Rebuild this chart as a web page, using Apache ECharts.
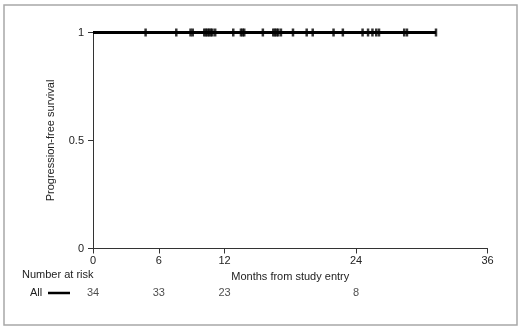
<!DOCTYPE html>
<html>
<head>
<meta charset="utf-8">
<script src="https://cdn.jsdelivr.net/npm/echarts@6/dist/echarts.min.js"></script>
<style>html,body{margin:0;padding:0;background:#fff;}#c{width:520px;height:328px;}</style>
</head>
<body>
<div id="c"></div>
<script>
// ---- data ----
var curveTimes = [0, 31.3];
var curveSurvival = [1, 1];
var censorTimes = [4.8, 7.6, 8.9, 9.1, 10.15, 10.3, 10.45, 10.6, 10.75, 10.9, 11.15, 12.8,
  13.5, 13.65, 13.8, 15.5, 16.45, 16.6, 16.75, 16.9, 17.15, 18.25, 19.5, 20.05, 21.95, 22.8,
  24.6, 25.1, 25.5, 25.85, 26.1, 28.4, 28.65, 31.3];
var xTicks = [0, 6, 12, 24, 36];
var yTicks = [0, 0.5, 1];
var riskTimes = [0, 6, 12, 24];
var riskCounts = [34, 33, 23, 8];
var groupName = 'All';

var FONT = 'Liberation Sans, Arial, sans-serif';
var TXT = '#222';
var chart = echarts.init(document.getElementById('c'), null, {renderer: 'canvas'});

var curveData = curveTimes.map(function (t, i) { return [t, curveSurvival[i]]; });
var censorData = censorTimes.map(function (t) { return [t, 1]; });
var riskData = riskTimes.map(function (t, i) { return [t, 0.5, riskCounts[i]]; });

chart.setOption({
  animation: false,
  backgroundColor: '#fff',
  grid: [
    {left: 93, right: 32.5, top: 32.5, bottom: 79.5},
    {left: 93, right: 32.5, top: 285, height: 16}
  ],
  xAxis: [{
    gridIndex: 0, type: 'value', min: 0, max: 36, interval: 6,
    name: 'Months from study entry', nameLocation: 'middle', nameGap: 21,
    nameTextStyle: {fontFamily: FONT, fontSize: 11, color: TXT},
    axisLine: {lineStyle: {color: '#333', width: 1}},
    axisTick: {show: true, length: 5, inside: false, customValues: xTicks, lineStyle: {color: '#333'}},
    axisLabel: {customValues: xTicks, margin: 7, fontFamily: FONT, fontSize: 11, color: TXT},
    splitLine: {show: false}
  }, {
    gridIndex: 1, type: 'value', min: 0, max: 36, show: false
  }],
  yAxis: [{
    gridIndex: 0, type: 'value', min: 0, max: 1, interval: 0.5,
    name: 'Progression-free survival', nameLocation: 'middle', nameGap: 37, nameRotate: 90,
    nameTextStyle: {fontFamily: FONT, fontSize: 11, color: TXT},
    axisLine: {show: true, lineStyle: {color: '#333', width: 1}},
    axisTick: {show: true, length: 5, customValues: yTicks, lineStyle: {color: '#333'}},
    axisLabel: {customValues: yTicks, margin: 9, fontFamily: FONT, fontSize: 11, color: TXT,
      formatter: function (v) { return String(v); }},
    splitLine: {show: false}
  }, {
    gridIndex: 1, type: 'value', min: 0, max: 1, show: false
  }],
  graphic: [
    {type: 'rect', shape: {x: 4, y: 5, width: 513, height: 320}, style: {fill: 'none', stroke: '#a8a8a8', lineWidth: 1.5}, silent: true},
    {type: 'text', left: 22, top: 269, style: {text: 'Number at risk', font: '11px ' + FONT, fill: TXT}},
    {type: 'text', left: 30, top: 287, style: {text: groupName, font: '11px ' + FONT, fill: TXT}},
    {type: 'line', shape: {x1: 48, y1: 293, x2: 70, y2: 293}, style: {stroke: '#000', lineWidth: 2.5}}
  ],
  series: [{
    type: 'line', xAxisIndex: 0, yAxisIndex: 0, step: 'end', data: curveData,
    symbol: 'none', lineStyle: {color: '#000', width: 3}, clip: false, z: 2
  }, {
    type: 'scatter', xAxisIndex: 0, yAxisIndex: 0, data: censorData,
    symbol: 'rect', symbolSize: [2.5, 8], itemStyle: {color: '#000'}, clip: false, z: 3
  }, {
    type: 'scatter', xAxisIndex: 1, yAxisIndex: 1, data: riskData,
    symbolSize: 0.01, itemStyle: {color: 'rgba(0,0,0,0)'},
    label: {show: true, position: 'inside', fontFamily: FONT, fontSize: 11, color: TXT,
      formatter: function (p) { return String(p.value[2]); }}
  }]
});
</script>
</body>
</html>
